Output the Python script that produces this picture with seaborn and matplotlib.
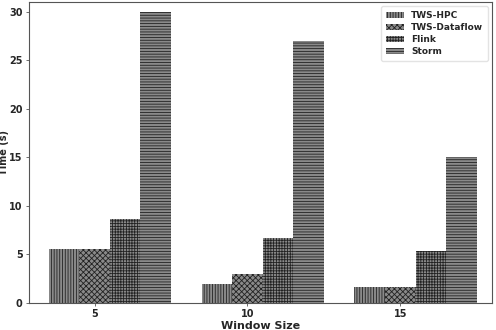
import pandas as pd
import numpy as np
import matplotlib
matplotlib.use('Agg')
import matplotlib.pyplot as plt
import seaborn as sns

# --- 数据 ---
window_sizes = ['5', '10', '15']
systems = ['TWS-HPC', 'TWS-Dataflow', 'Flink', 'Storm']
tws_hpc = [5.6, 2.0, 1.6]
tws_dataflow = [5.6, 3.0, 1.6]
flink = [8.6, 6.7, 5.4]
storm = [30.0, 27.0, 15.0]
hatches = ['||||||', 'xxxxxx', '++++++', '------']

df = pd.DataFrame({
    'Window Size': window_sizes * 4,
    'System': np.repeat(systems, 3),
    'Time (s)': tws_hpc + tws_dataflow + flink + storm,
})

sns.set_style('white')
plt.rcParams['font.family'] = ['DejaVu Sans']
plt.rcParams['hatch.linewidth'] = 0.6

fig = plt.figure(figsize=(4.96, 3.30), dpi=100)
ax = fig.add_axes([0.058, 0.082, 0.934, 0.912])

sns.barplot(data=df, x='Window Size', y='Time (s)', hue='System',
            order=window_sizes, hue_order=systems, width=0.8,
            palette=['#8a8a8a'] * 4, edgecolor='#222222', linewidth=0,
            errorbar=None, ax=ax)

# 为每个系列设置填充图案
for cont, h in zip(ax.containers, hatches):
    for bar in cont:
        bar.set_hatch(h)
        bar.set_edgecolor('#222222')
        bar.set_linewidth(0)

ax.set_xticks([i - 0.1 for i in range(len(window_sizes))])
ax.set_xticklabels(window_sizes, fontsize=7, fontweight='bold')
ax.set_yticks([0, 5, 10, 15, 20, 25, 30])
ax.set_yticklabels([0, 5, 10, 15, 20, 25, 30], fontsize=7, fontweight='bold')
ax.set_xlim(-0.53, 2.5)
ax.set_ylim(0, 31)
ax.tick_params(axis='both', length=2.5, width=0.6, pad=2, color='#555555', bottom=True, left=True)

ax.set_xlabel('Window Size', fontsize=8, fontweight='bold', labelpad=1)
ax.set_ylabel('Time (s)', fontsize=7, fontweight='bold')
ax.yaxis.set_label_coords(-0.043, 0.5)

for sp in ax.spines.values():
    sp.set_color('#555555')
    sp.set_linewidth(0.8)

leg = ax.legend(loc='upper right', prop={'size': 6.5, 'weight': 'bold'},
                frameon=True, handlelength=2.0, handleheight=0.7,
                borderpad=0.5, labelspacing=0.35)
leg.get_frame().set_edgecolor('#dddddd')
for patch, h in zip(leg.get_patches(), hatches):
    patch.set_hatch(h)
    patch.set_edgecolor('#222222')
    patch.set_linewidth(0)

fig.savefig('out.png', dpi=100)
